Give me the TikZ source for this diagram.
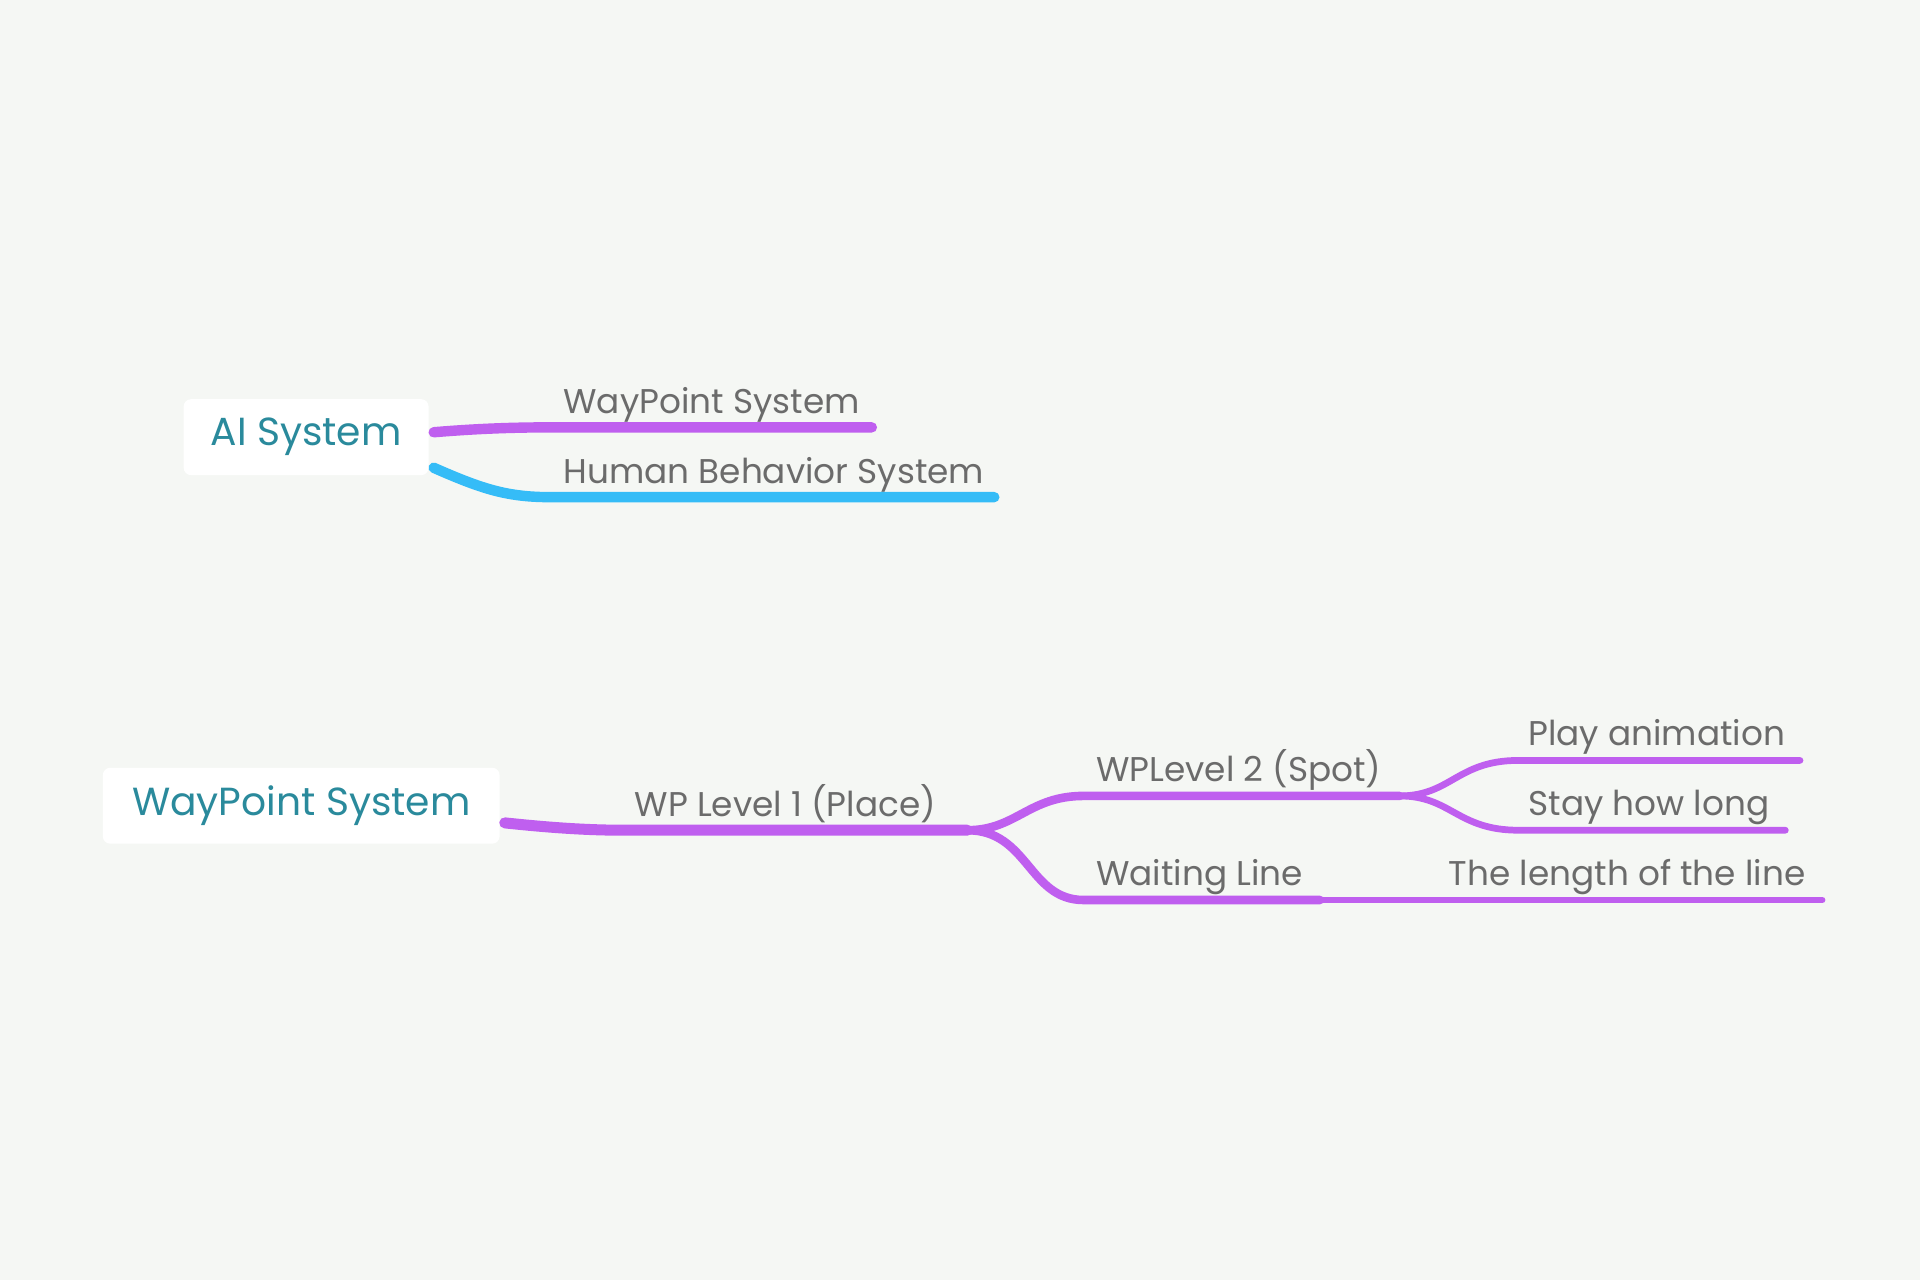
\documentclass[tikz,border=0pt]{standalone}
\usepackage{fontspec}
\setmainfont{Poppins}
\definecolor{bgcol}{HTML}{F5F7F4}
\definecolor{topiccol}{HTML}{2A8A9C}
\definecolor{labelcol}{HTML}{6B6B6B}
\definecolor{violet}{HTML}{BF5FEF}
\definecolor{skyblue}{HTML}{35BCF7}
\tikzset{
  central/.style={fill=white,rounded corners=6pt,text=topiccol,
    font=\fontsize{32}{38}\selectfont,inner sep=0pt},
  leaf/.style={anchor=base west,text=labelcol,inner sep=0pt,
    font=\fontsize{28}{32}\selectfont},
  branch/.style={draw=violet,line cap=round,line width=#1},
  branch/.default=6pt
}
\begin{document}
\begin{tikzpicture}[x=1pt,y=-1pt]
  \fill[bgcol] (0,0) rectangle (1568,1045);
  \useasboundingbox (0,0) rectangle (1568,1045);
  % first map
  \node[central,minimum width=200pt,minimum height=62pt] (ai) at (250,357) {AI System};
  \coordinate (ai1) at (450,349);
  \coordinate (ai1e) at (712,349);
  \coordinate (ai2) at (450,406);
  \coordinate (ai2e) at (812,406);
  \node[leaf] (waypoint) at (460,338) {WayPoint System};
  \node[leaf] (human) at (460,395) {Human Behavior System};
  \draw[branch=8.5pt] ([xshift=4pt,yshift=4pt]ai.east) .. controls (390,350) and (420,349) .. (ai1) -- (ai1e);
  \draw[branch=8.5pt,draw=skyblue] ([xshift=4pt,yshift=-25pt]ai.east) .. controls (395,400) and (415,406) .. (ai2) -- (ai2e);
  % second map
  \node[central,minimum width=324pt,minimum height=62pt] (wps) at (246,658) {WayPoint System};
  \coordinate (p1) at (510,678);
  \coordinate (fork1) at (790,678);
  \coordinate (s1) at (885,650);
  \coordinate (fork2) at (1143,650);
  \coordinate (w1) at (885,735);
  \coordinate (w2) at (1078,735);
  \coordinate (w3) at (1488,735);
  \coordinate (a1) at (1240,621);
  \coordinate (a1e) at (1470,621);
  \coordinate (h1) at (1240,678);
  \coordinate (h1e) at (1458,678);
  \node[leaf] (level1) at (518,667) {WP Level 1 (Place)};
  \node[leaf] (level2) at (895,638) {WPLevel 2 (Spot)};
  \node[leaf] (waiting) at (895,723) {Waiting Line};
  \node[leaf] (anim) at (1248,609) {Play animation};
  \node[leaf] (stay) at (1248,666) {Stay how long};
  \node[leaf] (length) at (1183,723) {The length of the line};
  \draw[branch=9pt] ([xshift=4pt,yshift=-14pt]wps.east) .. controls (450,676) and (480,678) .. (p1) -- (fork1);
  \draw[branch=7pt] (fork1) .. controls (830,678) and (840,650) .. (s1) -- (fork2);
  \draw[branch=7pt] (fork1) .. controls (840,678) and (840,735) .. (w1) -- (w2);
  \draw[branch=5.5pt] (fork2) .. controls (1185,650) and (1190,621) .. (a1) -- (a1e);
  \draw[branch=5.5pt] (fork2) .. controls (1185,650) and (1190,678) .. (h1) -- (h1e);
  \draw[branch=5.5pt] (w2) -- (w3);
\end{tikzpicture}
\end{document}
